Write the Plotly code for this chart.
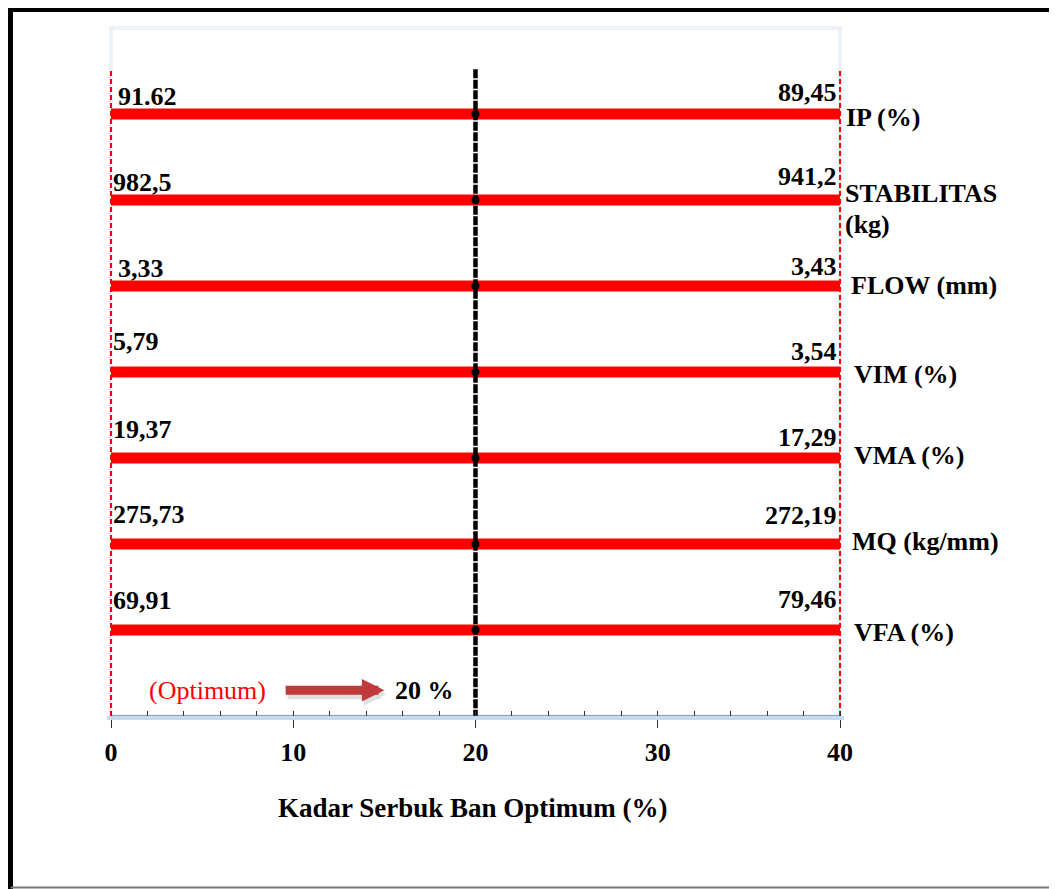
import plotly.graph_objects as go

# ---------------- data ----------------
categories = ["IP (%)", "STABILITAS<br>(kg)", "FLOW (mm)", "VIM (%)", "VMA (%)", "MQ (kg/mm)", "VFA (%)"]
left_values = ["91.62", "982,5", "3,33", "5,79", "19,37", "275,73", "69,91"]
right_values = ["89,45", "941,2", "3,43", "3,54", "17,29", "272,19", "79,46"]
x_min, x_max = 0, 40
optimum = 20
x_ticks = [0, 10, 20, 30, 40]
x_title = "Kadar Serbuk Ban Optimum (%)"
optimum_label = "(Optimum)"
optimum_text = f"{optimum} %"

# ---------------- style / layout constants ----------------
OFF = 8                      # page body margin of the browser
W, H = 1057 - OFF, 889 - OFF
PLOT_X0, PLOT_X1 = 111, 840  # page pixels of x_min / x_max
PLOT_Y0, PLOT_Y1 = 28, 716   # page pixels of plot top / axis
PAD_PX = 4                   # small range padding so edge lines are not clipped
unit = (PLOT_X1 - PLOT_X0) / (x_max - x_min)
pad = PAD_PX / unit
L = PLOT_X0 - OFF - PAD_PX
R = W - (PLOT_X1 - OFF + PAD_PX)
T = PLOT_Y0 - OFF
B = H - (PLOT_Y1 - OFF)
FONT = "Times New Roman, Liberation Serif, serif"
FS = 26
FS_TITLE = 27
n = len(categories)
rows = list(range(n))
LINE_TOP = -0.5
NOTE_Y = n - 0.3
OPT_LABEL_X = 5.3
ARROW_TAIL_X, ARROW_TIP_X = 9.5, 15.0
left_dy = [18, 18, 18, 31, 29, 30, 30]
right_dy = [22, 24, 20, 21, 21, 29, 31]
left_dx = [5, 0, 5, 0, 0, 0, 0]
cat_dx = [4, 3, 9, 12, 12, 10, 12]
cat_dy = [3, 9, -1, 2, -3, -3, 2]
CAT_LINE_GAP = 31

plot_w = W - L - R
plot_h = H - T - B


def pxx(px):
    return (px - OFF - L) / plot_w


def pxy(py):
    return (H - B - (py - OFF)) / plot_h


fig = go.Figure()

for i in rows:
    fig.add_trace(go.Scatter(x=[x_min, x_max], y=[i, i], mode="lines",
                             line=dict(color="#ff0000", width=11),
                             hoverinfo="skip", showlegend=False))

for xv in (x_min, x_max):
    fig.add_trace(go.Scatter(x=[xv, xv], y=[LINE_TOP, n], mode="lines",
                             line=dict(color="#ff0000", width=2, dash="5px,3px"),
                             hoverinfo="skip", showlegend=False))

fig.add_trace(go.Scatter(x=[optimum, optimum], y=[LINE_TOP - 0.02, n], mode="lines",
                         line=dict(color="#000000", width=4.5, dash="9px,1.5px"),
                         hoverinfo="skip", showlegend=False))
fig.add_trace(go.Scatter(x=[optimum] * n, y=rows, mode="markers",
                         marker=dict(color="#000000", size=8),
                         hoverinfo="skip", showlegend=False, cliponaxis=False))

ann = []
for i in rows:
    ann.append(dict(x=x_min, y=i, xref="x", yref="y", text=f"<b>{left_values[i]}</b>",
                    showarrow=False, xanchor="left", yanchor="middle",
                    xshift=left_dx[i], yshift=left_dy[i],
                    font=dict(family=FONT, size=FS, color="#000000")))
    ann.append(dict(x=x_max, y=i, xref="x", yref="y", text=f"<b>{right_values[i]}</b>",
                    showarrow=False, xanchor="right", yanchor="middle",
                    xshift=-1, yshift=right_dy[i],
                    font=dict(family=FONT, size=FS, color="#000000")))
    lines = categories[i].split("<br>")
    k = len(lines)
    for j, line in enumerate(lines):
        dy = -cat_dy[i] + ((k - 1) / 2 - j) * CAT_LINE_GAP
        ann.append(dict(x=x_max, y=i, xref="x", yref="y", text=f"<b>{line}</b>",
                        showarrow=False, xanchor="left", yanchor="middle", align="left",
                        xshift=cat_dx[i], yshift=dy,
                        font=dict(family=FONT, size=FS, color="#000000")))

ann.append(dict(x=(x_min + x_max) / 2, y=n, xref="x", yref="y", text=f"<b>{x_title}</b>",
                showarrow=False, xanchor="center", yanchor="middle", xshift=-3, yshift=-92,
                font=dict(family=FONT, size=FS_TITLE, color="#000000")))
ann.append(dict(x=OPT_LABEL_X, y=NOTE_Y, xref="x", yref="y", text=optimum_label,
                showarrow=False, xanchor="center", yanchor="middle",
                font=dict(family=FONT, size=FS, color="#ff0000")))
ann.append(dict(x=optimum, y=NOTE_Y, xref="x", yref="y", text=f"<b>{optimum_text}</b>",
                showarrow=False, xanchor="right", yanchor="middle", xshift=-20,
                font=dict(family=FONT, size=FS, color="#000000")))
ann.append(dict(x=ARROW_TIP_X, y=NOTE_Y, xref="x", yref="y", ax=ARROW_TAIL_X, ay=NOTE_Y,
                axref="x", ayref="y", text="", showarrow=True, arrowhead=2,
                arrowwidth=10, arrowsize=0.45, arrowcolor="rgba(0,0,0,0.12)",
                xshift=2, yshift=-4, standoff=0))
ann.append(dict(x=ARROW_TIP_X, y=NOTE_Y, xref="x", yref="y", ax=ARROW_TAIL_X, ay=NOTE_Y,
                axref="x", ayref="y", text="", showarrow=True, arrowhead=2,
                arrowwidth=9, arrowsize=0.5, arrowcolor="#c0393b", standoff=0))

shapes = [
    # light plot frame around x_min..x_max
    dict(type="rect", xref="paper", yref="paper", x0=pxx(PLOT_X0), x1=pxx(PLOT_X1),
         y0=0, y1=1, line=dict(color="#edf2f9", width=4), layer="below"),
    # dark axis core line
    dict(type="line", xref="x", yref="y", x0=x_min, x1=x_max, y0=n, y1=n,
         line=dict(color="#44546a", width=1.2)),
    # outer border
    dict(type="line", xref="paper", yref="paper", x0=pxx(10.5), x1=pxx(10.5),
         y0=pxy(9.5), y1=pxy(900), line=dict(color="#000000", width=5)),
    dict(type="line", xref="paper", yref="paper", x0=pxx(8), x1=pxx(1070),
         y0=pxy(9.5), y1=pxy(9.5), line=dict(color="#000000", width=5)),
    dict(type="line", xref="paper", yref="paper", x0=pxx(10.5), x1=pxx(1070),
         y0=pxy(887.5), y1=pxy(887.5), line=dict(color="#777777", width=2)),
]

fig.update_layout(
    width=W, height=H,
    margin=dict(l=L, r=R, t=T, b=B),
    paper_bgcolor="white", plot_bgcolor="white",
    showlegend=False,
    annotations=ann, shapes=shapes,
    xaxis=dict(range=[x_min - pad, x_max + pad], tickvals=x_ticks,
               ticktext=[f"<b>{v}</b>" for v in x_ticks],
               tickfont=dict(family=FONT, size=FS, color="#000000"),
               showgrid=False, zeroline=False,
               showline=True, linecolor="#c5d9f1", linewidth=4,
               ticks="outside", ticklen=8, tickwidth=1, tickcolor="#333333",
               ticklabelstandoff=2,
               minor=dict(dtick=2, ticks="inside", ticklen=5, tickcolor="#333333", tickwidth=1,
                          showgrid=False)),
    yaxis=dict(range=[n, -1], showgrid=False, zeroline=False, showticklabels=False,
               showline=False, ticks=""),
)

fig.write_html("out.html")
